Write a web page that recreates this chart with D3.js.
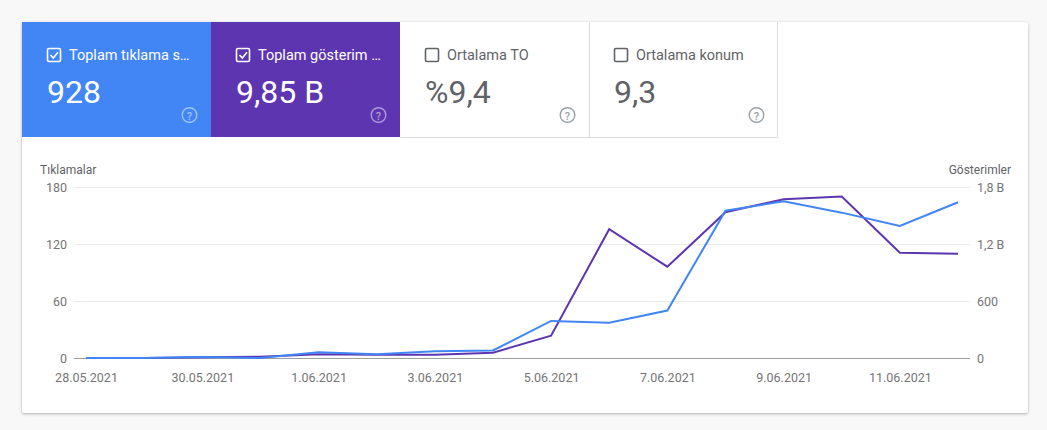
<!DOCTYPE html>
<meta charset="utf-8">
<script src="https://d3js.org/d3.v7.min.js"></script>
<style>
  body { margin: 0; background: #f8f8f8; font-family: Roboto, "Noto Sans", sans-serif; }
  .card { position: absolute; left: 22px; top: 22px; width: 1006px; height: 391px;
          background: #fff; box-shadow: 0 1px 3px rgba(0,0,0,0.3); border-radius: 2px; }
  #chart { position: absolute; left: 0; top: 0; }
</style>
<div class="card"></div>
<svg id="chart" width="1047" height="430"></svg>
<script>
// daily values
const dates = ["2021-05-28","2021-05-29","2021-05-30","2021-05-31","2021-06-01","2021-06-02",
  "2021-06-03","2021-06-04","2021-06-05","2021-06-06","2021-06-07","2021-06-08",
  "2021-06-09","2021-06-10","2021-06-11","2021-06-12"];
const clicks = [0, 0, 1, 0, 6, 4, 7, 8, 39, 37, 50, 155, 165, 153, 139, 164];
const impressions = [0, 0, 8, 14, 39, 35, 35, 56, 235, 1355, 961, 1534, 1672, 1700, 1108, 1098];
const leftTicks = [0, 60, 120, 180];
const rightTicks = [0, 600, 1200, 1800];
const rightTickLabels = ["0", "600", "1,2 B", "1,8 B"];

// summary tiles
const tileTitles = ["Toplam tıklama s…", "Toplam gösterim …", "Ortalama TO", "Ortalama konum"];
const tileValues = ["928", "9,85 B", "%9,4", "9,3"];
const tileColors = ["#4285f4", "#5e35b1", "#fff", "#fff"];
const tileChecked = [true, true, false, false];

let svg = d3.select("#chart");

// tiles
let tileW = 189, tileTop = 22, tileH = 115;
let tiles = svg.selectAll("g.tile")
  .data(tileTitles)
  .enter().append("g")
  .attr("class", "tile")
  .attr("transform", (d, i) => "translate(" + (22 + i * tileW) + "," + tileTop + ")");

tiles.append("rect")
  .attr("width", tileW).attr("height", tileH)
  .attr("fill", (d, i) => tileColors[i]);

// grey borders around white tiles
svg.append("path")
  .attr("d", "M400.5,137.5 H777.5 V22 M589.5,22 V137.5")
  .attr("fill", "none").attr("stroke", "#dadce0").attr("stroke-width", 1);

tiles.append("rect")
  .attr("x", 25.5).attr("y", 26.5).attr("width", 13).attr("height", 13).attr("rx", 1.5)
  .attr("fill", "none")
  .attr("stroke", (d, i) => tileChecked[i] ? "#fff" : "#5f6368")
  .attr("stroke-width", 1.6);

tiles.filter((d, i) => tileChecked[i]).append("path")
  .attr("d", "M28.5,33 L31.3,36 L36,30.2")
  .attr("fill", "none").attr("stroke", "#fff").attr("stroke-width", 1.6);

tiles.append("text")
  .attr("x", 47).attr("y", 38)
  .attr("font-size", 14.5)
  .attr("fill", (d, i) => tileChecked[i] ? "#fff" : "#5f6368")
  .text(d => d);

tiles.append("text")
  .attr("x", 25).attr("y", 81)
  .attr("font-size", 32)
  .attr("fill", (d, i) => tileChecked[i] ? "#fff" : "#5f6368")
  .text((d, i) => tileValues[i]);

tiles.append("circle")
  .attr("cx", 167.5).attr("cy", 93).attr("r", 7.3)
  .attr("fill", "none")
  .attr("stroke", (d, i) => tileChecked[i] ? "rgba(255,255,255,0.5)" : "#9aa0a6")
  .attr("stroke-width", 1.4);

tiles.append("text")
  .attr("x", 167.5).attr("y", 97.5)
  .attr("text-anchor", "middle")
  .attr("font-size", 11).attr("font-weight", 500)
  .attr("fill", (d, i) => tileChecked[i] ? "rgba(255,255,255,0.5)" : "#9aa0a6")
  .text("?");

// chart area
let plotLeft = 74, plotRight = 970, yTop = 187, yBottom = 358;
let parse = d3.timeParse("%Y-%m-%d");
let days = dates.map(parse);

let x = d3.scaleTime()
  .domain(d3.extent(days))
  .range([86, 958]);

let yL = d3.scaleLinear().domain([0, 180]).range([yBottom, yTop]);
let yR = d3.scaleLinear().domain([0, 1800]).range([yBottom, yTop]);

// gridlines
svg.append("g")
  .selectAll("line")
  .data(leftTicks.filter(d => d > 0))
  .enter().append("line")
  .attr("x1", plotLeft).attr("x2", plotRight)
  .attr("y1", d => Math.round(yL(d)) + 0.5).attr("y2", d => Math.round(yL(d)) + 0.5)
  .attr("stroke", "#ebebeb");

svg.append("line")
  .attr("x1", plotLeft).attr("x2", plotRight)
  .attr("y1", yBottom + 0.5).attr("y2", yBottom + 0.5)
  .attr("stroke", "#9e9e9e");

// left axis
let leftAxis = svg.append("g")
  .attr("transform", "translate(" + 67 + ",0)")
  .call(d3.axisLeft(yL).tickValues(leftTicks).tickSize(0).tickPadding(0));
leftAxis.select(".domain").remove();

// right axis
let rightAxis = svg.append("g")
  .attr("transform", "translate(" + 977 + ",0)")
  .call(d3.axisRight(yR).tickValues(rightTicks).tickSize(0).tickPadding(0)
    .tickFormat((d, i) => rightTickLabels[i]));
rightAxis.select(".domain").remove();

// x axis
let dayFmt = d3.timeFormat("%-d.%m.%Y");
let xTicks = days.filter((d, i) => i % 2 === 0);
let xAxis = svg.append("g")
  .attr("transform", "translate(0," + 373 + ")")
  .call(d3.axisBottom(x).tickValues(xTicks).tickSize(0).tickPadding(0).tickFormat(dayFmt));
xAxis.select(".domain").remove();

svg.selectAll(".tick text")
  .attr("font-family", "Roboto, sans-serif")
  .attr("font-size", 12.5)
  .attr("fill", "#757575");

// axis titles
svg.append("text")
  .attr("x", 40).attr("y", 174)
  .attr("font-size", 12).attr("fill", "#5f6368")
  .text("Tıklamalar");

svg.append("text")
  .attr("x", 1011).attr("y", 174)
  .attr("text-anchor", "end")
  .attr("font-size", 12).attr("fill", "#5f6368")
  .text("Gösterimler");

// lines
svg.append("path")
  .datum(days)
  .attr("fill", "none")
  .attr("stroke", "#5e35b1")
  .attr("stroke-width", 2)
  .attr("d", d3.line()
    .x(d => x(d))
    .y((d, i) => yR(impressions[i])));

svg.append("path")
  .datum(days)
  .attr("fill", "none")
  .attr("stroke", "#4285f4")
  .attr("stroke-width", 2)
  .attr("d", d3.line()
    .x(d => x(d))
    .y((d, i) => yL(clicks[i])));
</script>
